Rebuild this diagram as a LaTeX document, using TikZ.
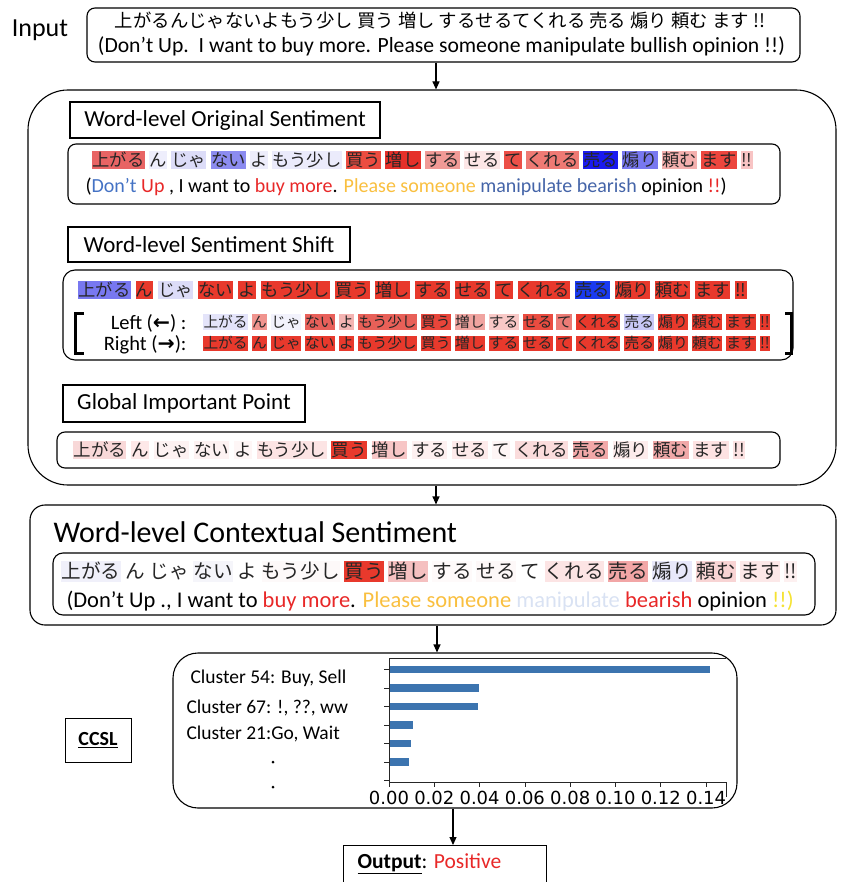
\documentclass[tikz,border=0pt]{standalone}
\usepackage{fontspec}
\usepackage{graphicx}
\setmainfont{Carlito}
\newfontfamily\cjk{Noto Sans CJK JP}
\newfontfamily\dejavu{DejaVu Sans}
\usetikzlibrary{arrows.meta}
\definecolor{tred}{HTML}{E82828}
\definecolor{tblue}{HTML}{4472C4}
\definecolor{tgold}{HTML}{F9BF3F}
\definecolor{tnavy}{HTML}{4464A8}
\definecolor{tpale}{HTML}{D9E2F3}
\definecolor{tyel}{HTML}{F5E232}
\definecolor{barblue}{HTML}{3C74AF}
\newcommand\fs[1]{\fontsize{#1}{#1}\selectfont}
\newcommand\wordrow[6]{%
  \pgfmathsetmacro\wrTH{0.88*#5}%
  \pgfmathsetmacro\wrTD{0.14*#5}%
  \foreach \c/\w [count=\i, remember=\i as \j (initially 0)] in {#6}{%
    \edef\tmpdef{\noexpand\definecolor{wcol}{HTML}{\c}}\tmpdef
    \ifnum\i=1\relax
      \node[wbox, font=\cjk\fs{#5}, text height=\wrTH pt, text depth=\wrTD pt, fill=wcol, anchor=west] (#1\i) at (#2,#3) {\w};
    \else
      \node[wbox, font=\cjk\fs{#5}, text height=\wrTH pt, text depth=\wrTD pt, fill=wcol, anchor=west] (#1\i) at ([xshift=#4pt]#1\j.east) {\w};
    \fi}}
\begin{document}
\begin{tikzpicture}[x=1pt,y=-1pt,
  rbox/.style={draw, line width=1.1pt, rounded corners=#1},
  tbox/.style={draw, line width=1.1pt, font=\fs{23}, inner sep=0pt},
  arr/.style={-{Triangle[length=8pt,width=7pt]}, line width=1.1pt},
  wbox/.style={inner xsep=0.3pt, inner ysep=0.5pt, text=black!85},
  lrlab/.style={anchor=east, font=\fs{20.5}, inner ysep=0pt, text height=13pt, text depth=3pt},
  axisl/.style={line width=0.8pt, black!85}]
\useasboundingbox (0,0) rectangle (844,882);

% Input
\node[font=\fs{26}] (inlabel) at (40,30) {Input};
\node[rbox=8, minimum width=713pt, minimum height=54pt] (input) at (443.5,35) {};
\node (injp) at (440,21) {\resizebox{650pt}{!}{\cjk 上がるんじゃないよもう少し 買う 増し するせるてくれる 売る 煽り 頼む ます !!}};
\node (inen) at (441.5,46) {\resizebox{687pt}{!}{(Don’t Up.\ \ I want to buy more. Please someone manipulate bullish opinion !!)}};

% Big box
\node[rbox=40, minimum width=808pt, minimum height=395pt] (big) at (432,287.5) {};
\node[tbox, minimum width=310pt, minimum height=36pt] (t1) at (225,120) {Word-level Original Sentiment};
\node[rbox=8, minimum width=712pt, minimum height=60pt] (b1) at (424,174) {};
\wordrow{ra}{92}{160}{3.9}{17.3}{E86464/上がる,EEEEFC/ん,DCDCF8/じゃ,8C8CF0/ない,EDEDFB/よ,EBEBFB/もう少し,EC4C40/買う,E5302A/増し,F09A96/する,FCE6E6/せる,EC5048/て,EE7A74/くれる,1A1AF0/売る,7878F0/煽り,F4B0AE/頼む,EC463E/ます,F8C4C4/!!}
\node[anchor=west, font=\fs{20}] (e1) at (82,187) {(\textcolor{tblue}{Don’t} \textcolor{tred}{Up} ,\ I want to \textcolor{tred}{buy more}. \textcolor{tgold}{Please someone} \textcolor{tnavy}{manipulate bearish} opinion \textcolor{tred}{!!})};

\node[tbox, minimum width=282pt, minimum height=35pt] (t2) at (209,244.5) {Word-level Sentiment Shift};
\node[rbox=12, minimum width=730pt, minimum height=90pt] (b2) at (428,315) {};
\wordrow{rb}{78}{290}{4.4}{17.3}{7878F0/上がる,E8392C/ん,DCDCF8/じゃ,E8392C/ない,E8392C/よ,E8392C/もう少し,E8392C/買う,E8392C/増し,E8392C/する,E8392C/せる,E8392C/て,E8392C/くれる,1A3AF0/売る,E8392C/煽り,E8392C/頼む,E8392C/ます,E8392C/!!}
\node[lrlab] (lleft) at (190,324) {Left ({\dejavu\bfseries ←}) :};
\node[lrlab] (lright) at (190,345) {Right ({\dejavu\bfseries →}):};
\draw[line width=3pt] (84,313) -- (75.5,313) -- (75.5,353) -- (84,353);
\draw[line width=3pt] (785,313) -- (791,313) -- (791,353) -- (785,353);
\wordrow{rl}{203}{322}{3.5}{14.7}{E4E4FA/上がる,F0948E/ん,F2F2FC/じゃ,E8605A/ない,F4B4B2/よ,E86058/もう少し,E8453A/買う,F0A4A0/増し,F8C8C6/する,EA4C40/せる,EC7C76/て,E8392C/くれる,C8C8F6/売る,E8392C/煽り,E8392C/頼む,E8392C/ます,E8392C/!!}
\wordrow{rr}{203}{343.5}{3.5}{14.7}{E8392C/上がる,E8392C/ん,E8392C/じゃ,E8392C/ない,E8392C/よ,E8392C/もう少し,E8392C/買う,E8392C/増し,E8392C/する,E8392C/せる,E8392C/て,E8392C/くれる,E8392C/売る,E8392C/煽り,E8392C/頼む,E8392C/ます,E8392C/!!}

\node[tbox, minimum width=242pt, minimum height=37pt] (t3) at (184,403.5) {Global Important Point};
\node[rbox=8, minimum width=723pt, minimum height=36pt] (b3) at (418.5,450) {};
\wordrow{rg}{73}{450}{4.2}{17.5}{F8D8D8/上がる,FDE8E8/ん,FDF2F2/じゃ,FDF2F2/ない,FEF6F6/よ,FCE4E4/もう少し,E8392C/買う,F7C6C6/増し,FDF0F0/する,FDEAEA/せる,FEF5F5/て,FADCDC/くれる,F2A8A8/売る,FDECEC/煽り,F0A8A8/頼む,FDE2E2/ます,FCE2E2/!!}

% Contextual
\node[rbox=15, minimum width=806pt, minimum height=120pt] (ctx) at (433,565) {};
\node[anchor=west, font=\fs{30}] (ctxtitle) at (50,532) {Word-level Contextual Sentiment};
\node[rbox=10, minimum width=762pt, minimum height=62pt] (b4) at (434,584) {};
\wordrow{rc}{61}{571}{3.8}{19.6}{F0F0FA/上がる,FFFFFF/ん,FFFFFF/じゃ,F5F5FA/ない,FFFFFF/よ,FDF9F9/もう少し,E8392C/買う,F5C0C0/増し,FEFAFA/する,FDF8F8/せる,FFFFFF/て,FCE4E4/くれる,F2A6A6/売る,E8E8FA/煽り,F8D4D4/頼む,FCE8E8/ます,FDF0F0/!!}
\node[anchor=west, font=\fs{22.5}] (e4) at (63,601) {(Don’t Up .,\ I want to \textcolor{tred}{buy more}. \textcolor{tgold}{Please someone} \textcolor{tpale}{manipulate} \textcolor{tred}{bearish} opinion \textcolor{tyel}{!!)}};

% CCSL
\node[rbox=25, minimum width=564pt, minimum height=155pt] (ccsl) at (455,730.5) {};
\node[draw, line width=0.6pt, minimum width=66pt, minimum height=44pt, font=\fs{20}\bfseries] (ccsllabel) at (98,740) {\underline{CCSL}};
\node[anchor=west, font=\fs{19.5}] (c54) at (187,678) {Cluster 54: Buy, Sell};
\node[anchor=west, font=\fs{19.5}] (c67) at (183,708) {Cluster 67: !, ??, ww};
\node[anchor=west, font=\fs{19.5}] (c21) at (183,734) {Cluster 21:Go, Wait};
\fill (273,762) circle (1.5);
\fill (273,787) circle (1.5);
% chart
\foreach \yc/\xe in {669.5/710,688/479,706.5/478,725/413,743.5/411,762/409}{
  \fill[barblue] (389,\yc-3.8) rectangle (\xe,\yc+3.8);
  \draw[axisl] (384,\yc) -- (389,\yc);
}
\draw[axisl] (384,780.5) -- (389,780.5);
\draw[axisl] (389,658) -- (726,658);
\draw[axisl] (389,658) -- (389,782) -- (726,782) -- (726,797);
\foreach \k/\lab in {0/0.00,1/0.02,2/0.04,3/0.06,4/0.08,5/0.10,6/0.12,7/0.14}{
  \draw[axisl] (389+45.3*\k,782) -- (389+45.3*\k,787);
  \node[font=\dejavu\fs{18}] at (389+45.3*\k,798) {\lab};
}

% Output
\draw[line width=1pt] (343,882) -- (343,845) -- (546,845) -- (546,882);
\coordinate (outtop) at (453,845);
\node[anchor=west, font=\fs{21.5}] (out) at (354,864) {\textbf{\underline{Output}}: \textcolor{tred}{Positive}};

% arrows
\draw[arr] (436,0 |- input.south) -- (436,0 |- big.north);
\draw[arr] (436,0 |- big.south) -- (436,0 |- ctx.north);
\draw[arr] (437,0 |- ctx.south) -- (437,0 |- ccsl.north);
\draw[arr] (453,0 |- ccsl.south) -- (outtop);
\end{tikzpicture}
\end{document}
